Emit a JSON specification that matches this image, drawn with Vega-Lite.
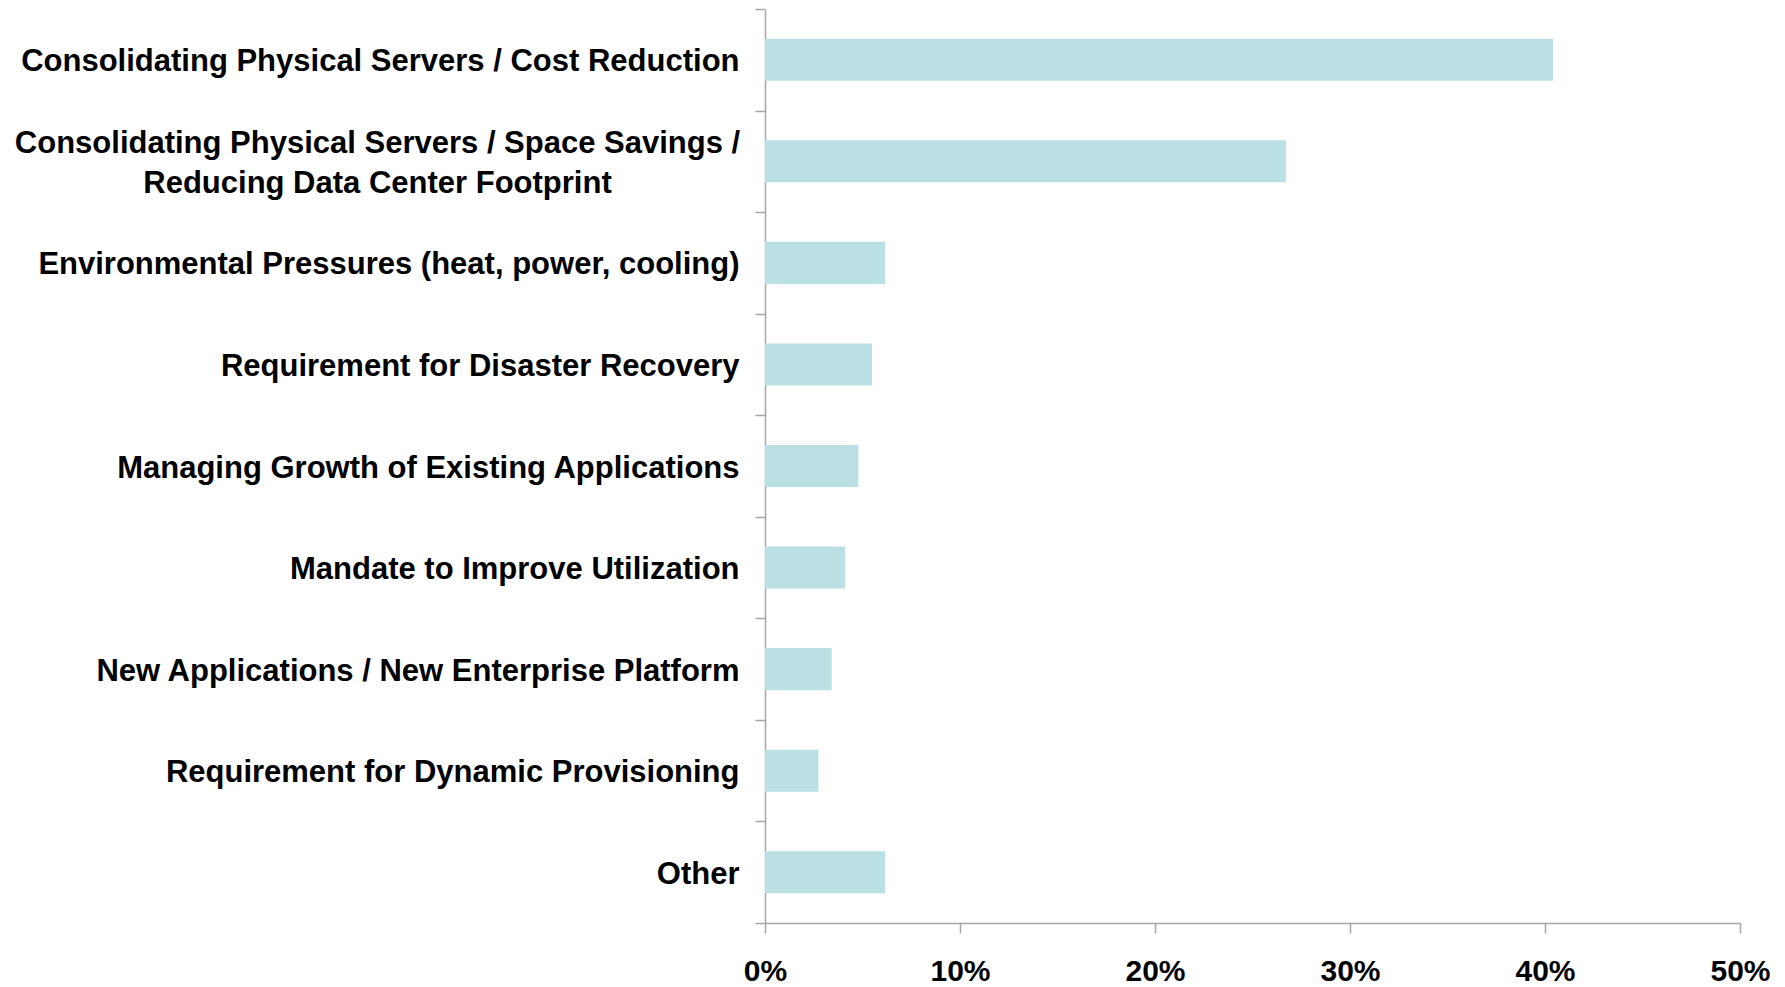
{
  "$schema": "https://vega.github.io/schema/vega-lite/v6.json",
  "width": 975,
  "height": 914,
  "autosize": {"type": "none"},
  "padding": {"left": 765, "top": 9, "right": 45, "bottom": 64},
  "background": "white",
  "data": {
    "values": [
      {"reason": "Consolidating Physical Servers / Cost Reduction", "share": 0.4041},
      {"reason": "Consolidating Physical Servers / Space Savings / Reducing Data Center Footprint", "share": 0.2671},
      {"reason": "Environmental Pressures (heat, power, cooling)", "share": 0.0616},
      {"reason": "Requirement for Disaster Recovery", "share": 0.0548},
      {"reason": "Managing Growth of Existing Applications", "share": 0.0479},
      {"reason": "Mandate to Improve Utilization", "share": 0.0411},
      {"reason": "New Applications / New Enterprise Platform", "share": 0.0342},
      {"reason": "Requirement for Dynamic Provisioning", "share": 0.0274},
      {"reason": "Other", "share": 0.0616}
    ]
  },
  "mark": {"type": "bar", "color": "#bae0e3", "height": {"band": 0.414}},
  "encoding": {
    "y": {
      "field": "reason",
      "type": "nominal",
      "sort": null,
      "scale": {"paddingInner": 0, "paddingOuter": 0},
      "axis": {
        "title": null,
        "domainColor": "#a6a6a6",
        "domainWidth": 1.5,
        "tickColor": "#a6a6a6",
        "tickWidth": 1.5,
        "tickSize": 10,
        "tickBand": "extent",
        "labelFont": "Liberation Sans",
        "labelFontSize": 31,
        "labelFontWeight": "bold",
        "labelColor": "#000000",
        "labelLimit": 0,
        "labelLineHeight": 40,
        "labelExpr": "datum.value == 'Consolidating Physical Servers / Space Savings / Reducing Data Center Footprint' ? ['Consolidating Physical Servers / Space Savings /', 'Reducing Data Center Footprint'] : datum.value",
        "labelAlign": {"condition": {"test": "datum.value == 'Consolidating Physical Servers / Space Savings / Reducing Data Center Footprint'", "value": "center"}, "value": "right"},
        "labelPadding": {"condition": {"test": "datum.value == 'Consolidating Physical Servers / Space Savings / Reducing Data Center Footprint'", "value": 378}, "value": 16},
        "labelOffset": {"condition": {"test": "datum.value == 'Consolidating Physical Servers / Space Savings / Reducing Data Center Footprint'", "value": -18}, "value": 2}
      }
    },
    "x": {
      "field": "share",
      "type": "quantitative",
      "scale": {"domain": [0, 0.5], "nice": false},
      "axis": {
        "title": null,
        "values": [0, 0.1, 0.2, 0.3, 0.4, 0.5],
        "format": ".0%",
        "grid": false,
        "domainColor": "#a6a6a6",
        "domainWidth": 1.5,
        "tickColor": "#a6a6a6",
        "tickWidth": 1.5,
        "tickSize": 10,
        "labelFont": "Liberation Sans",
        "labelFontSize": 30,
        "labelFontWeight": "bold",
        "labelColor": "#000000",
        "labelPadding": 23,
        "labelFlush": false,
        "labelOverlap": false
      }
    }
  },
  "config": {"view": {"stroke": null}}
}
